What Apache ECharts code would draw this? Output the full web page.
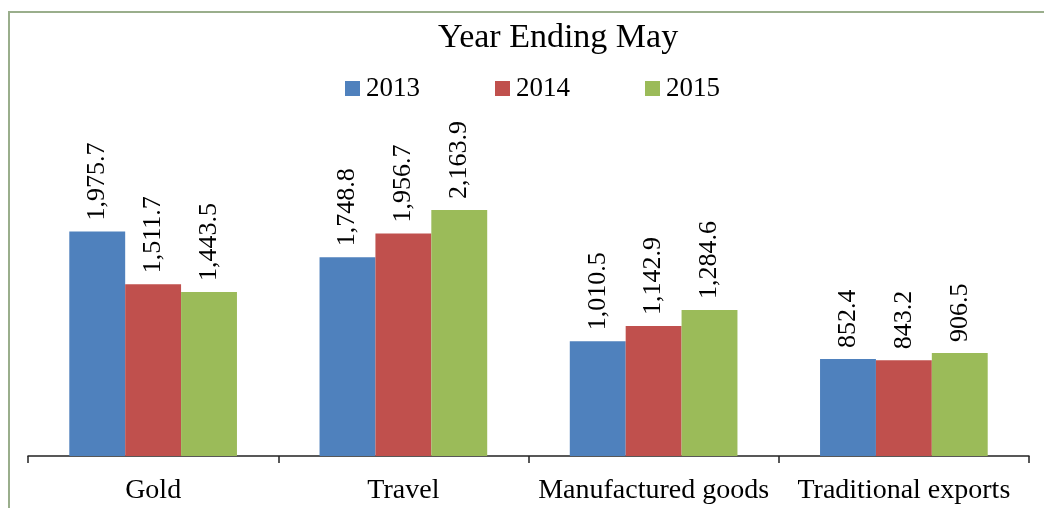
<!DOCTYPE html>
<html>
<head>
<meta charset="utf-8">
<script src="https://cdn.jsdelivr.net/npm/echarts@6/dist/echarts.min.js"></script>
<style>
  html, body { margin: 0; padding: 0; background: #fff; }
  #chart { width: 1044px; height: 508px; }
</style>
</head>
<body>
<div id="chart"></div>
<script>
var categories = ['Gold', 'Travel', 'Manufactured goods', 'Traditional exports'];
var years = ['2013', '2014', '2015'];
var values2013 = [1975.7, 1748.8, 1010.5, 852.4];
var values2014 = [1511.7, 1956.7, 1142.9, 843.2];
var values2015 = [1443.5, 2163.9, 1284.6, 906.5];
var colors = ['#4f81bd', '#c0504d', '#9bbb59'];

var serif = '"Liberation Serif", "DejaVu Serif", serif';

function fmt(v) {
    var parts = v.toFixed(1).split('.');
    return parts[0].replace(/\B(?=(\d{3})+(?!\d))/g, ',') + '.' + parts[1];
}

function makeSeries(name, data, color) {
    return {
        name: name,
        type: 'bar',
        data: data,
        barGap: '0%',
        barCategoryGap: '33%',
        itemStyle: { color: color },
        label: {
            show: true,
            position: 'top',
            rotate: 90,
            align: 'left',
            verticalAlign: 'middle',
            distance: 11,
            color: '#000',
            fontFamily: serif,
            fontSize: 26,
            formatter: function (p) { return fmt(p.value); }
        }
    };
}

var myChart = echarts.init(document.getElementById('chart'));
var option = {
    backgroundColor: '#fff',
    animation: false,
    title: {
        text: 'Year Ending May',
        left: 438,
        top: 21,
        padding: 0,
        textStyle: {
            fontFamily: serif,
            fontSize: 34,
            fontWeight: 'normal',
            color: '#000'
        }
    },
    legend: {
        data: years,
        left: 345,
        top: 75,
        padding: 0,
        icon: 'rect',
        itemWidth: 15,
        itemHeight: 15,
        itemGap: 75,
        textStyle: {
            fontFamily: serif,
            fontSize: 27,
            color: '#000',
            padding: [0, 0, 0, 1]
        }
    },
    graphic: [{
        type: 'rect',
        shape: { x: 9, y: 12, width: 1100, height: 600 },
        style: { fill: 'none', stroke: '#9aae8c', lineWidth: 2 },
        silent: true
    }],
    grid: {
        left: 28,
        right: 15,
        top: 115,
        bottom: 52
    },
    xAxis: {
        type: 'category',
        data: categories,
        axisLine: { lineStyle: { color: '#222', width: 1.5 } },
        axisTick: { show: true, length: 7, lineStyle: { color: '#222', width: 1.5 } },
        axisLabel: {
            margin: 21,
            interval: 0,
            fontFamily: serif,
            fontSize: 28,
            color: '#000'
        }
    },
    yAxis: {
        type: 'value',
        min: 0,
        max: 3000,
        show: false,
        splitLine: { show: false }
    },
    series: [
        makeSeries(years[0], values2013, colors[0]),
        makeSeries(years[1], values2014, colors[1]),
        makeSeries(years[2], values2015, colors[2])
    ]
};
myChart.setOption(option);
</script>
</body>
</html>
